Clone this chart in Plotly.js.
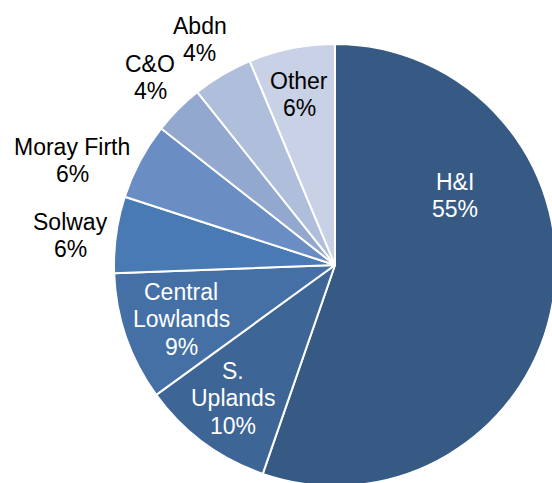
<!DOCTYPE html>
<html>
<head>
<meta charset="utf-8">
<script src="https://cdn.plot.ly/plotly-3.0.1.min.js"></script>
<style>
html, body { margin: 0; padding: 0; overflow: hidden; background: #fff; width: 552px; height: 483px; }
#chart { width: 670px; height: 530px; }
</style>
</head>
<body>
<div id="chart"></div>
<script>
// Data
var categories = ['H&I', 'S. Uplands', 'Central Lowlands', 'Solway', 'Moray Firth', 'C&O', 'Abdn', 'Other'];
var displayNames = ['H&I', 'S.|Uplands', 'Central|Lowlands', 'Solway', 'Moray Firth', 'C&O', 'Abdn', 'Other'];
var shares = [55.3, 9.7, 9.4, 5.6, 5.6, 3.7, 4.4, 6.3];
var sliceColors = ['#375A84', '#3D6596', '#4470A5', '#4A7AB4', '#6A8EC3', '#93A8CE', '#AFBEDA', '#C8D1E5'];
var textColors = ['#ffffff', '#ffffff', '#ffffff', '#000000', '#000000', '#000000', '#000000', '#000000'];
// label anchor: centre x and first-line baseline y, in page pixels
var labelPx = [[455, 190], [233, 379], [181, 300], [70, 230], [72, 155], [150, 72], [200, 34], [299, 89]];

var W = 670, H = 530;
var FS = 23, LINE = 27.6;
var total = shares.reduce(function (a, b) { return a + b; }, 0);

var annotations = [];
categories.forEach(function (c, i) {
  var pct = Math.round(shares[i] / total * 100);
  var lines = displayNames[i].split('|').concat([pct + '%']);
  lines.forEach(function (ln, j) {
    var base = labelPx[i][1] + j * LINE;
    annotations.push({
      xref: 'paper', yref: 'paper',
      x: labelPx[i][0] / W, y: 1 - (base - 0.36 * FS) / H,
      xanchor: 'center', yanchor: 'middle',
      text: ln,
      showarrow: false,
      font: { family: 'Liberation Sans, Arial, sans-serif', size: FS, color: textColors[i] }
    });
  });
});

var trace = {
  type: 'pie',
  labels: categories,
  values: shares,
  sort: false,
  direction: 'clockwise',
  rotation: 0,
  textinfo: 'none',
  hoverinfo: 'none',
  marker: { colors: sliceColors, line: { color: '#ffffff', width: 2 } },
  domain: { x: [0, 1], y: [1 - 486 / H, 1 - 44 / H] },
  showlegend: false
};

var layout = {
  width: W, height: H,
  margin: { l: 0, r: 0, t: 0, b: 0 },
  paper_bgcolor: '#ffffff',
  showlegend: false,
  annotations: annotations
};

Plotly.newPlot('chart', [trace], layout, { displayModeBar: false, staticPlot: true });
</script>
</body>
</html>
